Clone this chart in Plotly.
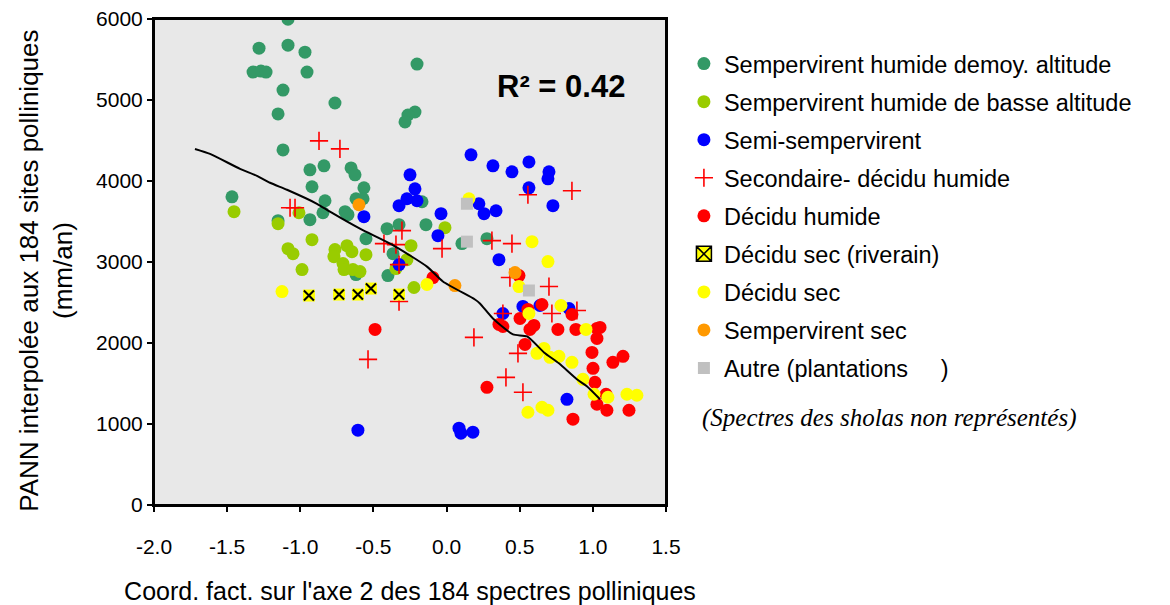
import plotly.graph_objects as go

# ---------------- data ----------------
semp_alt_x = [-1.084, -1.282, -1.084, -0.968, -1.323, -1.269, -1.234, -0.954, -1.118, -1.152,
              -1.118, -0.934, -0.838, -1.467, -1.152, -0.934, -0.920, -0.831, -0.845, -0.653,
              -0.626, -0.565, -0.619, -0.571, -0.694, -0.674, -0.168, -0.141, 0.105, 0.276,
              -0.325, -0.407, -0.551, -0.366, -0.619, -0.401, -0.202, -0.763, -0.216, -0.264, -0.284]
semp_alt_y = [5997, 5640, 5677, 5591, 5345, 5357, 5345, 5345, 5123, 4828,
              4384, 4138, 4187, 3805, 3510, 3522, 3929, 3756, 3608, 4162,
              4076, 3916, 3781, 3781, 3621, 3584, 3744, 3461, 3227, 3288,
              3461, 3411, 3288, 3103, 2845, 2833, 5443, 4963, 4852, 4815, 4729]

semp_basse_x = [-1.453, -1.152, -1.009, -0.920, -1.084, -1.050, -0.988, -0.011, -0.243, -0.763,
                -0.770, -0.681, -0.647, -0.551, -0.708, -0.701, -0.640, -0.592, -0.346, -0.271, -0.223]
semp_basse_y = [3621, 3473, 3608, 3276, 3165, 3103, 2906, 3424, 3202, 3153,
                3066, 3202, 3128, 3091, 2980, 2906, 2906, 2882, 2919, 3029, 2685]

semi_x = [-0.250, -0.216, -0.271, -0.202, -0.325, 0.167, 0.317, 0.338, 0.256, 0.221,
          -0.038, -0.059, -0.565, 0.358, 0.447, 0.563, 0.700, 0.693, 0.563, 0.727,
          -0.325, -0.606, 0.085, 0.098, 0.180, 0.385, 0.522, 0.638, 0.823, 0.837]
semi_y = [4076, 3904, 3781, 3756, 3695, 4323, 4187, 3633, 3596, 3719,
          3596, 3325, 3559, 3029, 4113, 4236, 4113, 4027, 3916, 3695,
          2968, 924, 948, 887, 899, 2364, 2451, 2463, 1305, 2426]

second_x = [-0.872, -0.729, -1.070, -1.036, -0.428, -0.346, -0.305, -0.325, -0.325, -0.031,
            0.187, -0.537, 0.310, 0.447, 0.556, 0.857, 0.433, 0.700, 0.385, 0.720,
            0.891, 0.488, 0.406, 0.522]
second_y = [4495, 4396, 3670, 3670, 3227, 3214, 3387, 2968, 2512, 3165,
            2069, 1798, 3264, 3227, 3830, 3879, 2808, 2697, 2364, 2364,
            2401, 1872, 1576, 1392]

dec_hum_x = [-0.093, -0.489, 0.276, 0.358, 0.385, 0.502, 0.495, 0.556, 0.570, 0.597,
             0.652, 0.761, 0.857, 0.884, 1.028, 1.049, 1.028, 0.536, 0.994, 1.137,
             1.206, 1.001, 1.014, 1.090, 1.028, 1.096, 1.247, 0.864]
dec_hum_y = [2808, 2167, 1453, 2229, 2204, 2303, 2833, 2414, 2167, 2217,
             2475, 2167, 2352, 2167, 2180, 2192, 2057, 1983, 1884, 1761,
             1835, 1687, 1515, 1367, 1244, 1170, 1170, 1059]

riv_x = [-0.941, -0.735, -0.606, -0.517, -0.325]
riv_y = [2586, 2598, 2598, 2672, 2598]

dec_sec_x = [-1.125, -0.134, 0.153, 0.584, 0.693, 0.495, 0.563, 0.782, 0.953, 0.618,
             0.666, 0.707, 0.768, 0.857, 0.932, 1.008, 1.103, 1.233, 1.301, 0.556,
             0.652, 0.693]
dec_sec_y = [2635, 2722, 3781, 3251, 3005, 2697, 2364, 2463, 2167, 1872,
             1933, 1823, 1835, 1761, 1552, 1367, 1330, 1367, 1355, 1145,
             1207, 1170]

semp_sec_x = [-0.599, 0.057, 0.468]
semp_sec_y = [3707, 2709, 2869]

autre_x = [0.139, 0.139, 0.563]
autre_y = [3719, 3251, 2648]

trend_x = [-1.720, -1.617, -1.412, -1.296, -1.207, -1.091, -0.886, -0.797, -0.592, -0.373,
           -0.134, -0.025, 0.194, 0.228, 0.317, 0.454, 0.550, 0.666, 0.768, 0.891, 0.959, 1.049]
trend_y = [4396, 4335, 4150, 4064, 3978, 3892, 3719, 3621, 3411, 3214,
           2943, 2759, 2537, 2488, 2303, 2106, 2081, 1884, 1749, 1552, 1466, 1305]

x_ticks = [-2.0, -1.5, -1.0, -0.5, 0.0, 0.5, 1.0, 1.5]
y_ticks = [0, 1000, 2000, 3000, 4000, 5000, 6000]

# ---------------- figure ----------------
FONT = "Liberation Sans, Arial, sans-serif"
fig = go.Figure()


def circ(name, xs, ys, color, g):
    fig.add_trace(go.Scatter(x=xs, y=ys, mode="markers", name=name, legendgroup=g,
                             marker=dict(symbol="circle", size=13, color=color,
                                         line=dict(width=0))))


circ("Sempervirent humide demoy. altitude", semp_alt_x, semp_alt_y, "#339966", "g1")
circ("Sempervirent humide de basse altitude", semp_basse_x, semp_basse_y, "#99cc00", "g2")
circ("Semi-sempervirent", semi_x, semi_y, "#0000ff", "g3")
fig.add_trace(go.Scatter(x=second_x, y=second_y, mode="markers", name="Secondaire- décidu humide",
                         legendgroup="g4",
                         marker=dict(symbol="cross-thin-open", size=13, color="#ff0000",
                                     line=dict(width=1.6, color="#ff0000"))))
circ("Décidu humide", dec_hum_x, dec_hum_y, "#ff0000", "g5")
# riverain: yellow square + black x (plot), legend proxy
fig.add_trace(go.Scatter(x=riv_x, y=riv_y, mode="markers", showlegend=False, legendgroup="g6",
                         marker=dict(symbol="square", size=12, color="#ffff00", line=dict(width=0))))
fig.add_trace(go.Scatter(x=riv_x, y=riv_y, mode="markers", showlegend=False, legendgroup="g6",
                         marker=dict(symbol="x-thin-open", size=10, color="#000000",
                                     line=dict(width=2, color="#000000"))))
fig.add_trace(go.Scatter(x=[None], y=[None], mode="markers", name="Décidu sec (riverain)",
                         legendgroup="g6",
                         marker=dict(symbol="square-x", size=15, color="#ffff00",
                                     line=dict(width=1.5, color="#000000"))))
circ("Décidu sec", dec_sec_x, dec_sec_y, "#ffff00", "g7")
circ("Sempervirent sec", semp_sec_x, semp_sec_y, "#ff9900", "g8")
fig.add_trace(go.Scatter(x=autre_x, y=autre_y, mode="markers",
                         name="Autre (plantations\u00a0\u00a0\u00a0\u00a0\u00a0)", legendgroup="g9",
                         marker=dict(symbol="square", size=12, color="#c0c0c0", line=dict(width=0))))
fig.add_trace(go.Scatter(x=trend_x, y=trend_y, mode="lines", showlegend=False,
                         line=dict(color="black", width=2, shape="spline", smoothing=0.6)))

axis_common = dict(showline=True, linecolor="black", linewidth=2, mirror=True,
                   ticks="outside", ticklen=5, tickwidth=1.5, tickcolor="black",
                   showgrid=False, zeroline=False, ticklabeloverflow="allow",
                   tickfont=dict(family=FONT, size=21, color="black"))

fig.update_xaxes(range=[-2, 1.5], tickvals=x_ticks, ticktext=[f"{v:.1f}" for v in x_ticks],
                 ticklabelstandoff=17,
                 title=dict(text="Coord. fact. sur l'axe 2 des 184 spectres polliniques",
                            font=dict(family=FONT, size=25, color="black"), standoff=25),
                 **axis_common)
fig.update_yaxes(range=[0, 6000], tickvals=y_ticks, **axis_common)

# plot frame (top/right edges)
fig.add_shape(type="rect", xref="x domain", yref="y domain", x0=0, x1=1, y0=0, y1=1,
              line=dict(color="black", width=2), layer="above")

fig.add_annotation(x=-0.211, y=0.482, xref="paper", yref="paper", showarrow=False,
                   xanchor="center", yanchor="middle", textangle=-90,
                   text="PANN interpolée aux 184 sites polliniques<br>(mm/an)",
                   font=dict(family=FONT, size=26, color="black"))
fig.add_annotation(x=0.795, y=0.861, xref="paper", yref="paper", showarrow=False,
                   xanchor="center", yanchor="middle",
                   text="<b>R² = 0.42</b>", font=dict(family=FONT, size=31, color="black"))
fig.add_annotation(x=1.066, y=0.180, xref="paper", yref="paper", showarrow=False,
                   xanchor="left", yanchor="middle",
                   text="<i>(Spectres des sholas non représentés)</i>",
                   font=dict(family="Liberation Serif, Times New Roman, serif", size=25, color="black"))

fig.update_layout(
    width=1170, height=605,
    margin=dict(l=146, r=512, t=11, b=108, autoexpand=False),
    paper_bgcolor="white", plot_bgcolor="#e8e8e8",
    font=dict(family=FONT, color="black"),
    legend=dict(x=1.035, y=0.953, xanchor="left", yanchor="top",
                font=dict(family=FONT, size=23.5, color="black"),
                tracegroupgap=4.5, bgcolor="rgba(0,0,0,0)", itemsizing="trace"),
)

fig.write_html("out.html")
